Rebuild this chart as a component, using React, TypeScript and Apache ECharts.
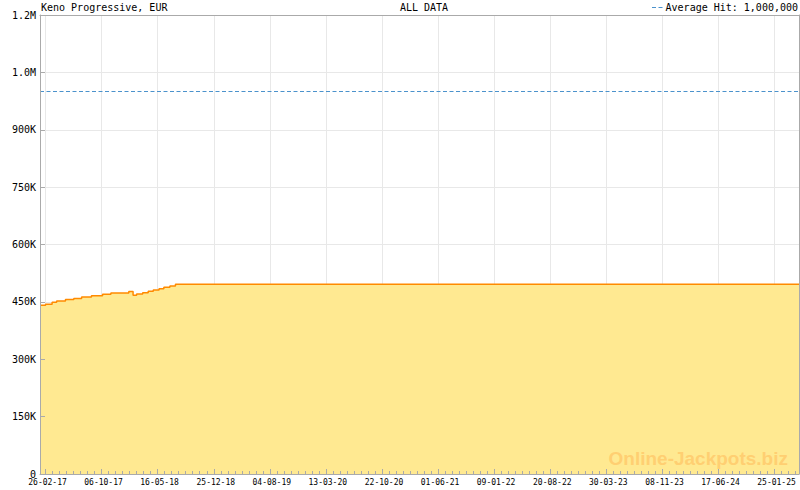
import React, { useEffect, useRef } from "react";
import * as echarts from "echarts";

// ---- data ----
const dates = [
  "2017-02-04", "2017-02-26", "2017-03-24", "2017-04-11", "2017-05-16",
  "2017-06-18", "2017-07-19", "2017-08-27", "2017-10-10", "2017-11-12",
  "2018-01-22", "2018-02-08", "2018-02-22", "2018-03-18", "2018-04-09",
  "2018-04-29", "2018-05-22", "2018-06-10", "2018-07-04", "2018-07-26",
  "2025-05-02",
];
const values = [
  441000, 444000, 449000, 452000, 456000,
  459000, 463000, 466000, 470000, 473000,
  477000, 467000, 470500, 474000, 477500,
  481000, 484500, 488000, 491500, 496000,
  496000,
];
const xTickLabels = [
  "26-02-17", "06-10-17", "16-05-18", "25-12-18", "04-08-19", "13-03-20", "22-10-20",
  "01-06-21", "09-01-22", "20-08-22", "30-03-23", "08-11-23", "17-06-24", "25-01-25",
];
const yTickLabels = ["0", "150K", "300K", "450K", "600K", "750K", "900K", "1.0M", "1.2M"];
const yMax = 1200000;
const yInterval = 150000;
const xRange = ["2017-02-04", "2025-05-02"];
const averageHit = 1000000;
const titleText = "Keno Progressive, EUR";
const centerText = "ALL DATA";
const legendText = "Average Hit: 1,000,000";
const watermarkText = "Online-Jackpots.biz";

function parseIso(s: string): number {
  const [y, m, d] = s.split("-").map(Number);
  return Date.UTC(y, m - 1, d);
}
function parseTick(s: string): number {
  const [d, m, y] = s.split("-").map(Number);
  return Date.UTC(2000 + y, m - 1, d);
}

export default function App() {
  const ref = useRef<HTMLDivElement>(null);
  useEffect(() => {
    if (!ref.current) return;
    const chart = echarts.init(ref.current, null, { renderer: "svg" });
    const majors = xTickLabels.map(parseTick);
    const xMin = parseIso(xRange[0]);
    const xMax = parseIso(xRange[1]);
    const minors: number[] = [];
    for (let i = 0; i < majors.length; i++) {
      const next = i < majors.length - 1 ? majors[i + 1] : majors[i] + (majors[i] - majors[i - 1]);
      const step = (next - majors[i]) / 8;
      for (let k = 1; k < 8; k++) {
        const v = majors[i] + k * step;
        if (v < xMax) minors.push(v);
      }
    }
    const mono = "'DejaVu Sans Mono', monospace";
    const gray = "#aaaaaa";
    const gridColor = "#e8e8e8";
    const xCommon = { type: "value", min: xMin, max: xMax, gridIndex: 0 };
    const yCommon = { type: "value", min: 0, max: yMax, interval: yInterval, gridIndex: 0 };
    const xLabelFmt = (v: number) => {
      const i = majors.findIndex((m) => Math.abs(m - v) < 1000);
      return i >= 0 ? xTickLabels[i] : "";
    };
    const yLabelFmt = (v: number) => yTickLabels[Math.round(v / yInterval)] ?? "";

    const option: any = {
      animation: false,
      grid: { left: 40, right: 1, top: 15, bottom: 16, show: false },
      xAxis: [
        {
          ...xCommon, position: "bottom", z: 0,
          axisLine: { show: false },
          axisTick: { show: false, customValues: majors },
          axisLabel: { show: false, customValues: majors },
          splitLine: { show: true, lineStyle: { color: gridColor, width: 1 } },
        },
        {
          ...xCommon, position: "bottom", z: 5,
          axisLine: { show: true, onZero: false, lineStyle: { color: gray, width: 1 } },
          axisTick: { show: true, inside: true, length: 5, customValues: majors, lineStyle: { color: gray } },
          axisLabel: {
            show: true, customValues: majors, formatter: xLabelFmt,
            fontFamily: mono, fontSize: 8, color: "#000", margin: 4,
            padding: [0, 0, 0, 4], lineHeight: 9,
          },
          splitLine: { show: false },
        },
        {
          ...xCommon, position: "bottom", z: 5,
          axisLine: { show: false },
          axisTick: { show: true, inside: true, length: 3, customValues: minors, lineStyle: { color: gray } },
          axisLabel: { show: false },
          splitLine: { show: false },
        },
        {
          ...xCommon, position: "top", z: 5,
          axisLine: { show: true, onZero: false, lineStyle: { color: gray, width: 1 } },
          axisTick: { show: false },
          axisLabel: { show: false },
          splitLine: { show: false },
        },
      ],
      yAxis: [
        {
          ...yCommon, position: "left", z: 0,
          axisLine: { show: false },
          axisTick: { show: false },
          axisLabel: { show: false },
          splitLine: { show: true, lineStyle: { color: gridColor, width: 1 } },
        },
        {
          ...yCommon, position: "left", z: 5,
          axisLine: { show: true, onZero: false, lineStyle: { color: gray, width: 1 } },
          axisTick: { show: true, inside: true, length: 5, lineStyle: { color: gray } },
          axisLabel: {
            show: true, formatter: yLabelFmt, fontFamily: mono, fontSize: 10,
            color: "#000", margin: 4, lineHeight: 10,
          },
          splitLine: { show: false },
        },
        {
          ...yCommon, position: "right", z: 5,
          axisLine: { show: true, onZero: false, lineStyle: { color: gray, width: 1 } },
          axisTick: { show: false },
          axisLabel: { show: false },
          splitLine: { show: false },
        },
      ],
      series: [
        {
          type: "line",
          xAxisIndex: 0,
          yAxisIndex: 0,
          z: 2,
          step: "end",
          symbol: "none",
          showSymbol: false,
          data: dates.map((d, i) => [parseIso(d), values[i]]),
          lineStyle: { color: "#ff8a00", width: 1.5 },
          areaStyle: { color: "#ffe991", opacity: 1 },
          markLine: {
            silent: true,
            symbol: "none",
            label: { show: false },
            lineStyle: { color: "#4b92cc", type: [4, 2.5], width: 1 },
            data: [{ yAxis: averageHit }],
          },
        },
      ],
      graphic: [
        {
          type: "text", x: 41, y: 7, z: 10,
          style: { text: titleText, font: `10px ${mono}`, fill: "#000", align: "left", verticalAlign: "middle" },
        },
        {
          type: "text", x: 424, y: 7, z: 10,
          style: { text: centerText, font: `10px ${mono}`, fill: "#000", align: "center", verticalAlign: "middle" },
        },
        {
          type: "line", z: 10,
          shape: { x1: 652, y1: 7.5, x2: 663, y2: 7.5 },
          style: { stroke: "#4b92cc", lineWidth: 1, lineDash: [4, 2.5] },
        },
        {
          type: "text", x: 798, y: 7, z: 10,
          style: { text: legendText, font: `10px ${mono}`, fill: "#000", align: "right", verticalAlign: "middle" },
        },
        {
          type: "text", x: 788, y: 458, z: 100,
          style: {
            text: watermarkText, font: "bold 19px 'Liberation Sans', Arial, sans-serif",
            fill: "#ffcf72", align: "right", verticalAlign: "middle",
          },
        },
      ],
    };
    chart.setOption(option);
    return () => chart.dispose();
  }, []);
  return (
    <div
      ref={ref}
      style={{ position: "absolute", left: 0, top: 0, width: 800, height: 490, background: "#fff" }}
    />
  );
}
